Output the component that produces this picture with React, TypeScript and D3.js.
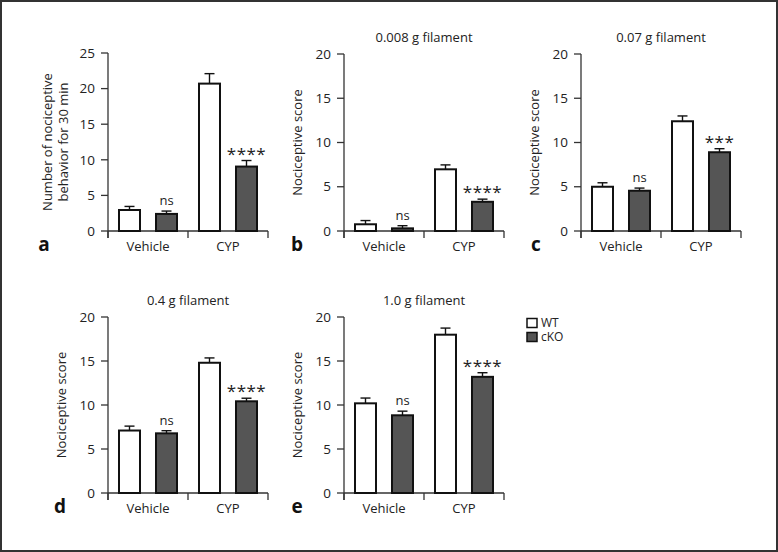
import React from "react";
import * as d3 from "d3";

const groups = ["Vehicle", "CYP"];
const series = ["WT", "cKO"];

// Panel a
const aWT = [2.95, 20.7];
const aWTErr = [0.5, 1.4];
const aKO = [2.4, 9.05];
const aKOErr = [0.4, 0.85];
const aSig = ["ns", "****"];
// Panel b
const bWT = [0.76, 6.97];
const bWTErr = [0.42, 0.5];
const bKO = [0.3, 3.3];
const bKOErr = [0.3, 0.3];
const bSig = ["ns", "****"];
// Panel c
const cWT = [5.0, 12.4];
const cWTErr = [0.45, 0.6];
const cKO = [4.55, 8.9];
const cKOErr = [0.3, 0.4];
const cSig = ["ns", "***"];
// Panel d
const dWT = [7.1, 14.8];
const dWTErr = [0.5, 0.55];
const dKO = [6.78, 10.42];
const dKOErr = [0.3, 0.35];
const dSig = ["ns", "****"];
// Panel e
const eWT = [10.19, 17.99];
const eWTErr = [0.6, 0.75];
const eKO = [8.83, 13.2];
const eKOErr = [0.47, 0.47];
const eSig = ["ns", "****"];

const ticks25 = [0, 5, 10, 15, 20, 25];
const ticks20 = [0, 5, 10, 15, 20];

const FONT = "'Open Sans', 'Noto Sans', sans-serif";
const AX = "#333";
const KO_FILL = "#555";

type PanelProps = {
  x0: number;
  top: number;
  bottom: number;
  yMax: number;
  ticks: number[];
  wt: number[];
  wtErr: number[];
  ko: number[];
  koErr: number[];
  sig: string[];
  letter: string;
  title?: string;
  ylabel: string[];
  ylabelX: number;
  letterX: number;
};

function Panel(p: PanelProps) {
  const width = 160;
  const x = d3.scaleBand<string>().domain(groups).range([p.x0, p.x0 + width]).padding(0);
  const xi = d3.scaleBand<string>().domain(series).range([11, 69]).paddingInner(16 / 37).paddingOuter(0);
  const y = d3.scaleLinear().domain([0, p.yMax]).range([p.bottom, p.top]);
  const bw = xi.bandwidth();
  const vals = [p.wt, p.ko];
  const errs = [p.wtErr, p.koErr];
  const midY = (p.top + p.bottom) / 2;
  return (
    <g>
      {p.title && (
        <text x={p.x0 + width / 2} y={p.top - 12} textAnchor="middle" fontSize={13} fill="#222" fontFamily={FONT}>
          {p.title}
        </text>
      )}
      {/* y axis */}
      <line x1={p.x0} x2={p.x0} y1={p.top} y2={p.bottom + 7} stroke={AX} strokeWidth={1.3} />
      {p.ticks.map((t) => (
        <g key={t}>
          <line x1={p.x0 - 7} x2={p.x0} y1={y(t)} y2={y(t)} stroke={AX} strokeWidth={1.3} />
          <text x={p.x0 - 13} y={y(t)} dy="0.35em" textAnchor="end" fontSize={13.5} fill="#222" fontFamily={FONT}>
            {t}
          </text>
        </g>
      ))}
      {/* x axis */}
      <line x1={p.x0} x2={p.x0 + width} y1={p.bottom} y2={p.bottom} stroke={AX} strokeWidth={1.3} />
      {[0, 1, 2].map((i) => (
        <line key={i} x1={p.x0 + (i * width) / 2} x2={p.x0 + (i * width) / 2} y1={p.bottom} y2={p.bottom + 7} stroke={AX} strokeWidth={1.3} />
      ))}
      {groups.map((g) => (
        <text key={g} x={(x(g) as number) + x.bandwidth() / 2} y={p.bottom + 20} textAnchor="middle" fontSize={13} fill="#222" fontFamily={FONT}>
          {g}
        </text>
      ))}
      {/* bars */}
      {groups.map((g, gi) =>
        series.map((s, si) => {
          const bx = (x(g) as number) + (xi(s) as number);
          const v = vals[si][gi];
          const e = errs[si][gi];
          const cx = bx + bw / 2;
          return (
            <g key={g + s}>
              <line x1={cx} x2={cx} y1={y(v)} y2={y(v + e)} stroke="#111" strokeWidth={1.4} />
              <line x1={cx - 5} x2={cx + 5} y1={y(v + e)} y2={y(v + e)} stroke="#111" strokeWidth={1.4} />
              <rect x={bx} y={y(v)} width={bw} height={p.bottom - y(v)} fill={si === 0 ? "#fff" : KO_FILL} stroke="#111" strokeWidth={2} />
              {si === 1 && (
                p.sig[gi] === "ns" ? (
                  <text x={cx} y={y(v + e) - 6} textAnchor="middle" fontSize={13} fill="#222" fontFamily={FONT}>
                    ns
                  </text>
                ) : (
                  <text x={cx} y={y(v + e) - 1} textAnchor="middle" fontSize={17} fill="#222" fontFamily={FONT} letterSpacing={0.5}>
                    {p.sig[gi]}
                  </text>
                )
              )}
            </g>
          );
        })
      )}
      {/* y label */}
      <text transform={`translate(${p.ylabelX},${midY}) rotate(-90)`} textAnchor="middle" fontSize={13} fill="#222" fontFamily={FONT}>
        {p.ylabel.map((l, i) => (
          <tspan key={i} x={0} dy={i === 0 ? 0 : 16}>
            {l}
          </tspan>
        ))}
      </text>
      <text x={p.letterX} y={p.bottom + 20} textAnchor="middle" fontSize={19} fontWeight="bold" fill="#111" fontFamily={FONT}>
        {p.letter}
      </text>
    </g>
  );
}

export default function App() {
  return (
    <svg width={778} height={552} style={{ position: "absolute", left: 0, top: 0, background: "#fff" }}>
      <rect x={1} y={1} width={776} height={550} fill="#fff" stroke="#333" strokeWidth={2} />
      <Panel x0={108} top={53} bottom={231} yMax={25} ticks={ticks25} wt={aWT} wtErr={aWTErr} ko={aKO} koErr={aKOErr} sig={aSig}
        letter="a" ylabel={["Number of nociceptive", "behavior for 30 min"]} ylabelX={52} letterX={44} />
      <Panel x0={344} top={54} bottom={231} yMax={20} ticks={ticks20} wt={bWT} wtErr={bWTErr} ko={bKO} koErr={bKOErr} sig={bSig}
        letter="b" title="0.008 g filament" ylabel={["Nociceptive score"]} ylabelX={302} letterX={297} />
      <Panel x0={581} top={54} bottom={231} yMax={20} ticks={ticks20} wt={cWT} wtErr={cWTErr} ko={cKO} koErr={cKOErr} sig={cSig}
        letter="c" title="0.07 g filament" ylabel={["Nociceptive score"]} ylabelX={539} letterX={536} />
      <Panel x0={108} top={317} bottom={493} yMax={20} ticks={ticks20} wt={dWT} wtErr={dWTErr} ko={dKO} koErr={dKOErr} sig={dSig}
        letter="d" title="0.4 g filament" ylabel={["Nociceptive score"]} ylabelX={66} letterX={60} />
      <Panel x0={344} top={317} bottom={493} yMax={20} ticks={ticks20} wt={eWT} wtErr={eWTErr} ko={eKO} koErr={eKOErr} sig={eSig}
        letter="e" title="1.0 g filament" ylabel={["Nociceptive score"]} ylabelX={302} letterX={297} />
      {/* legend */}
      {series.map((s, i) => (
        <g key={s}>
          <rect x={527} y={318.5 + i * 14} width={10} height={9} fill={i === 0 ? "#fff" : KO_FILL} stroke="#111" strokeWidth={1.5} />
          <text x={541} y={318.5 + i * 14 + 4.5} dy="0.35em" fontSize={12} fill="#222" fontFamily={FONT}>
            {s}
          </text>
        </g>
      ))}
    </svg>
  );
}
